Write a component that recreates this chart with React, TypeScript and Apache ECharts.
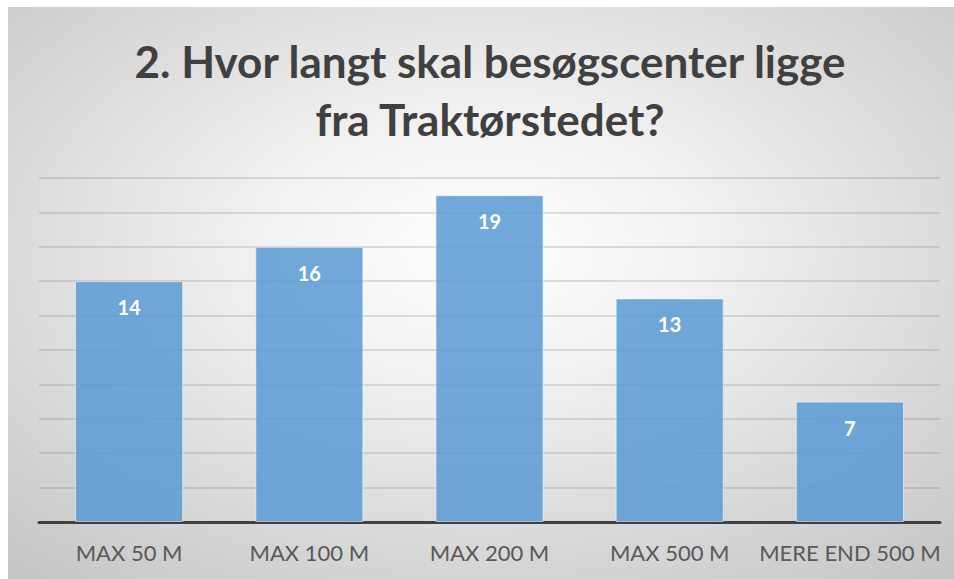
import React, { useEffect, useRef } from "react";
import * as echarts from "echarts";

const titleLines = ["2. Hvor langt skal besøgscenter ligge", "fra Traktørstedet?"];
const categories = ["MAX 50 M", "MAX 100 M", "MAX 200 M", "MAX 500 M", "MERE END 500 M"];
const values = [14, 16, 19, 13, 7];
const axisMin = 0;
const axisMax = 20;
const axisInterval = 2;

export default function App() {
  const ref = useRef<HTMLDivElement>(null);
  useEffect(() => {
    if (!ref.current) return;
    const chart = echarts.init(ref.current, undefined, { renderer: "svg" });
    chart.setOption({
      animation: false,
      graphic: titleLines.map((line, i) => ({
        type: "text",
        x: 482,
        y: 54 + i * 58,
        style: {
          text: line,
          font: "bold 44px Lato",
          fill: "#404040",
          align: "center",
          verticalAlign: "middle",
        },
      })),
      grid: { left: 31, right: 14, top: 171, bottom: 57 },
      xAxis: {
        type: "category",
        data: categories,
        axisLine: { lineStyle: { color: "#404040", width: 3 } },
        axisTick: { show: false },
        axisLabel: {
          color: "#595959",
          fontFamily: "Lato",
          fontSize: 22,
          margin: 19,
          interval: 0,
        },
      },
      yAxis: {
        type: "value",
        min: axisMin,
        max: axisMax,
        interval: axisInterval,
        axisLabel: { show: false },
        axisLine: { show: false },
        axisTick: { show: false },
        splitLine: { lineStyle: { color: "rgba(110,110,110,0.28)", width: 1.5 } },
      },
      series: [
        {
          type: "bar",
          data: values,
          barWidth: "60%",
          itemStyle: {
            color: "rgba(91,155,213,0.86)",
            borderColor: "rgba(255,255,255,0.55)",
            borderWidth: 1,
          },
          label: {
            show: true,
            position: "insideTop",
            distance: 16,
            color: "#ffffff",
            fontFamily: "Lato",
            fontWeight: "bold",
            fontSize: 20,
          },
        },
      ],
    });
    return () => chart.dispose();
  }, []);
  return (
    <div
      ref={ref}
      style={{
        position: "absolute",
        left: 8,
        top: 7,
        width: 946,
        height: 572,
        background:
          "radial-gradient(ellipse 75% 75% at 50% 42%, #ffffff 0%, #f2f2f2 30%, #d8d8d8 70%, #c6c6c6 100%)",
      }}
    />
  );
}
